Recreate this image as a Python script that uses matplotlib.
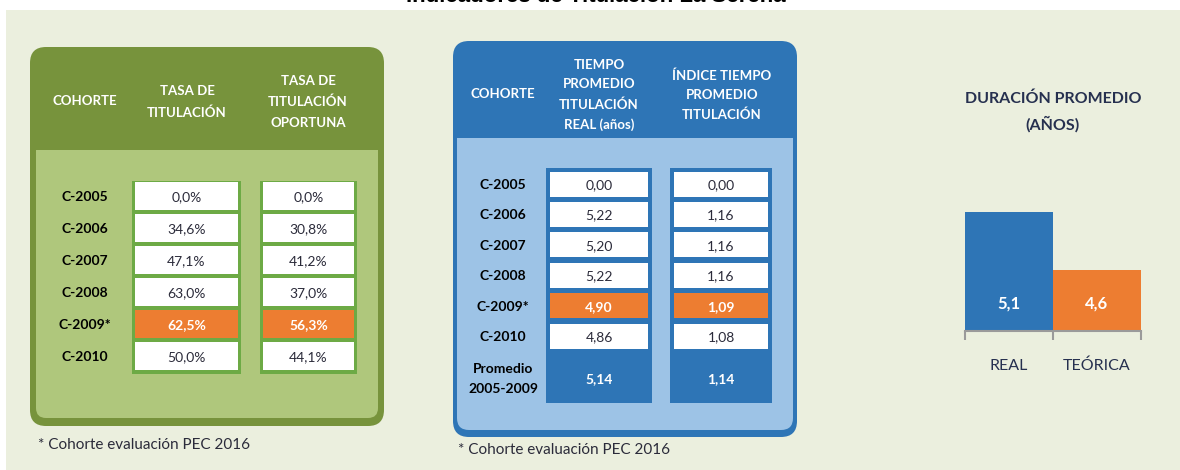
import matplotlib.pyplot as plt
from matplotlib.patches import FancyBboxPatch, Rectangle

# datos
cohortes = ["C-2005", "C-2006", "C-2007", "C-2008", "C-2009*", "C-2010"]
tasa_titulacion = [0.0, 34.6, 47.1, 63.0, 62.5, 50.0]
tasa_oportuna = [0.0, 30.8, 41.2, 37.0, 56.3, 44.1]
tiempo_real = [0.00, 5.22, 5.20, 5.22, 4.90, 4.86]
indice_tiempo = [0.00, 1.16, 1.16, 1.16, 1.09, 1.08]
promedio_label = "Promedio\n2005-2009"
promedio_tiempo = 5.14
promedio_indice = 1.14
destacada = "C-2009*"

duracion_cat = ["REAL", "TEÓRICA"]
duracion_val = [5.1, 4.6]

titulo = "Indicadores de Titulación La Serena"
nota = "* Cohorte evaluación PEC 2016"

# colores
BG = "#EBEFDE"
VERDE_OSC = "#77933C"
VERDE_CLARO = "#AFC77C"
VERDE_CELDA = "#6DAA45"
AZUL = "#2E75B6"
AZUL_CLARO = "#9DC3E6"
NARANJA = "#ED7D31"
TXT = "#2b2b3a"
NAVY = "#26304f"

plt.rcParams["font.family"] = ["Lato", "DejaVu Sans"]


def fmt(v, d, pct=False):
    s = f"{v:.{d}f}".replace(".", ",")
    return s + "%" if pct else s


def rbox(ax, x0, y0, x1, y1, color, r):
    ax.add_patch(FancyBboxPatch((x0, y0), x1 - x0, y1 - y0,
                                boxstyle=f"round,pad=0,rounding_size={r}",
                                fc=color, ec="none"))


fig = plt.figure(figsize=(11.8, 4.7), dpi=100)
fig.patch.set_facecolor("white")
ax = fig.add_axes([0, 0, 1, 1])
ax.set_xlim(0, 1180)
ax.set_ylim(470, 0)
ax.axis("off")

ax.add_patch(Rectangle((6, 10), 1174, 460, fc=BG, ec="none"))
# el titulo aparece cortado por el borde superior, como en el original
ax.text(596, 2, titulo, ha="center", va="baseline", fontsize=16,
        fontweight="bold", family=["Liberation Sans", "DejaVu Sans"], color="black")

# ---------- tabla verde ----------
rbox(ax, 30, 47, 384, 426, VERDE_OSC, 16)
rbox(ax, 36, 150, 378, 418, VERDE_CLARO, 10)
ax.add_patch(Rectangle((36, 150), 342, 30, fc=VERDE_CLARO, ec="none"))

hdr = dict(ha="center", va="center", color="white", fontweight="bold",
           fontsize=9.5, linespacing=1.85)
ax.text(85, 101, "COHORTE", **hdr)
ax.text(187, 102, "TASA DE\nTITULACIÓN", **hdr)
ax.text(308, 102, "TASA DE\nTITULACIÓN\nOPORTUNA", **hdr)

cols_g = [(132, 241, tasa_titulacion), (260, 357, tasa_oportuna)]
y0, step, ch = 196, 32, 28
for x0, x1, vals in cols_g:
    ax.add_patch(Rectangle((x0, 181), x1 - x0, 193, fc=VERDE_CELDA, ec="none"))
for i, c in enumerate(cohortes):
    yc = y0 + i * step
    hi = c == destacada
    ax.text(85, yc + 1, c, ha="center", va="center", fontsize=10,
            fontweight="bold", color="black")
    for x0, x1, vals in cols_g:
        ax.add_patch(Rectangle((x0 + 3, yc - ch / 2), x1 - x0 - 6, ch,
                               fc=NARANJA if hi else "white", ec="none"))
        ax.text((x0 + x1) / 2, yc + 1, fmt(vals[i], 1, True), ha="center",
                va="center", fontsize=10, color="white" if hi else TXT,
                fontweight="bold" if hi else "normal")
ax.text(38, 445, nota, ha="left", va="center", fontsize=11, color=TXT)

# ---------- tabla azul ----------
rbox(ax, 453, 41, 797, 437, AZUL, 16)
rbox(ax, 457, 138, 793, 430, AZUL_CLARO, 12)
ax.add_patch(Rectangle((457, 138), 336, 30, fc=AZUL_CLARO, ec="none"))

ax.text(503, 94, "COHORTE", **hdr)
ax.text(599, 95, "TIEMPO\nPROMEDIO\nTITULACIÓN\nREAL (años)",
        **{**hdr, "linespacing": 1.75})
ax.text(722, 95, "ÍNDICE TIEMPO\nPROMEDIO\nTITULACIÓN",
        **{**hdr, "linespacing": 1.7})

cols_b = [(546, 652, tiempo_real, promedio_tiempo),
          (670, 772, indice_tiempo, promedio_indice)]
y0, step, ch = 184, 30.4, 25
for x0, x1, vals, pm in cols_b:
    ax.add_patch(Rectangle((x0, 168), x1 - x0, 235, fc=AZUL, ec="none"))
    ax.text((x0 + x1) / 2, 379, fmt(pm, 2), ha="center", va="center",
            fontsize=10, color="white", fontweight="bold")
for i, c in enumerate(cohortes):
    yc = y0 + i * step
    hi = c == destacada
    ax.text(503, yc + 1, c, ha="center", va="center", fontsize=10,
            fontweight="bold", color="black")
    for x0, x1, vals, pm in cols_b:
        ax.add_patch(Rectangle((x0 + 4, yc - ch / 2), x1 - x0 - 8, ch,
                               fc=NARANJA if hi else "white", ec="none"))
        ax.text((x0 + x1) / 2, yc + 1, fmt(vals[i], 2), ha="center",
                va="center", fontsize=10, color="white" if hi else TXT,
                fontweight="bold" if hi else "normal")
ax.text(503, 379, promedio_label, ha="center", va="center", fontsize=10,
        fontweight="bold", color="black", linespacing=1.75)
ax.text(458, 450, nota, ha="left", va="center", fontsize=11, color=TXT)

# ---------- grafico duracion ----------
ax.text(1053, 112, "DURACIÓN PROMEDIO\n(AÑOS)", ha="center", va="center",
        fontsize=11.5, fontweight="bold", color=NAVY, linespacing=1.8)

bx = fig.add_axes([965 / 1180, (470 - 331) / 470, 176 / 1180, 151 / 470])
bx.patch.set_alpha(0)
bx.bar(range(len(duracion_val)), duracion_val, width=1.0,
       color=[AZUL, NARANJA], edgecolor="none")
bx.set_xlim(-0.5, len(duracion_val) - 0.5)
bx.set_ylim(4.074, 5.376)
for s in ["top", "right", "left"]:
    bx.spines[s].set_visible(False)
bx.spines["bottom"].set_color("#9a9a9a")
bx.spines["bottom"].set_linewidth(1.5)
bx.set_yticks([])
bx.set_xticks(range(len(duracion_cat)))
bx.set_xticklabels(duracion_cat, fontsize=11.5, color=NAVY)
bx.tick_params(axis="x", which="major", length=0, pad=20)
bx.set_xticks([i - 0.5 for i in range(len(duracion_cat) + 1)], minor=True)
bx.tick_params(axis="x", which="minor", length=6.5, width=1.5,
               color="#9a9a9a", direction="out")
for i, v in enumerate(duracion_val):
    bx.text(i, 0.185, fmt(v, 1), transform=bx.get_xaxis_transform(),
            ha="center", va="center", fontsize=12, fontweight="bold",
            color="white")

fig.savefig("out.png", dpi=100, facecolor=fig.get_facecolor())
